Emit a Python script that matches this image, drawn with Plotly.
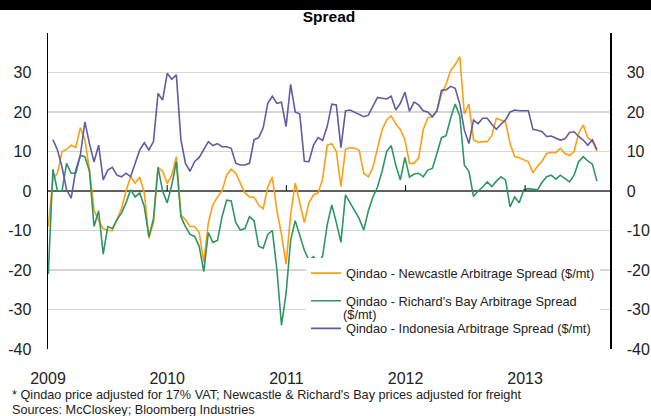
import pandas as pd
import plotly.graph_objects as go

# fortnightly observations, Jan 2009 - Aug 2013
dates = pd.date_range("2009-01-02", periods=121, freq="14D")

newcastle = [
    -9, 3, 4.5, 10, 10.5, 11.6, 11, 16, 13, 5.3,
    -4.8, -7.5, -9.5, -10, -10, -7, -4.5, 0, 3.6, 2,
    3.5, -0.5, -12, -8, 6, 5, 1.9, 4, 8.7, -6,
    -7.3, -9, -9, -10.5, -18, -8, -3.5, -1.5, 0, 4,
    5.5, 4.5, 2, -0.5, -1.5, -1.5, -3.5, -4.5, 1, 3.5,
    -5, -11, -18.5, -6, 2, -3, -8, -3, -1, -0.5,
    3, 11.6, 12, 10, 1.1, 10.5, 11, 10.8, 10.3, 4.5,
    3.6, 6, 10.5, 15.5, 18, 19, 17, 15.5, 13, 7,
    7, 8.4, 15.5, 18.5, 18.8, 20.3, 24.5, 27, 30.5, 32,
    34, 19.5, 22, 13, 12.3, 12.5, 12.5, 14, 18.4, 18,
    17.5, 12, 8.7, 8.4, 8, 7.4, 4.6, 6.3, 7.6, 9.5,
    9.8, 9.7, 10.8, 9.5, 9, 10, 14.6, 16.7, 13.5, 12.6,
    10,
]

richards_bay = [
    -21, 5.5, 0, 0, 7, 4.5, 4.5, 9, 8.7, 5,
    -9, -5, -16, -9, -9.5, -7.3, -5.6, -3, 0.3, -1.5,
    -0.5, -4, -11.6, -7, 6, 0, -3, 1.5, 7.4, -6.5,
    -9, -11, -11.5, -14, -20.4, -10.5, -13, -12.5, -6.5, -2.3,
    -2.5, -8, -9.9, -9.5, -6.5, -7.5, -14, -14.5, -11, -10,
    -20, -34, -26, -12.5, -7.5, -11.5, -15, -17.5, -16.6, -18.4,
    -16.5, -8.5, -3.5, -8, -13, -1, -3, -5.3, -7, -9.9,
    -5, -1.5, 1, 5, 10, 11.5, 6.5, 2.8, 8.5, 3.5,
    4.3, 4.5, 3.6, 5.3, 5.7, 9.5, 13.5, 14, 18.5, 22,
    19, 6.5, 5, -1.4, 0, 1, 2.3, 1.1, 2.5, 3.6,
    2.8, -4, -1.5, -3, 0.3, 0.6, 0.5, 0.3, 2.2, 3.6,
    4, 3, 4, 3.2, 2.3, 4, 7.4, 8.7, 7.6, 6.8,
    2.5,
]

indonesia = [
    None, 13, 10.4, 6, 0.3, -1.8, 5.3, 9, 17.5, 12,
    7.4, 11.6, 2.8, 5.3, 6, 4, 3.6, 4.5, 3.6, 7,
    10.4, 12.2, 10.4, 12.5, 24.7, 23, 29.8, 28.3, 29.4, 13,
    7, 5, 7.5, 8.5, 10.5, 12.5, 11.5, 12, 11.2, 11.2,
    10.8, 7, 6.6, 6.6, 7, 13, 13.5, 16, 22.2, 24,
    22.2, 22.5, 16.3, 27, 20, 19.5, 7.5, 7.4, 11.6, 13.5,
    12.8, 16.3, 22, 21.8, 11, 20.3, 20.5, 19.9, 19.4, 18.8,
    19.2, 21.5, 23.7, 23.5, 23.3, 24, 20.5, 22.2, 25, 20.2,
    22.5, 21.8, 20.3, 20, 18.8, 20.3, 25.5, 25.6, 26.5, 26,
    22, 15.4, 12, 18, 17, 18.4, 18.4, 16.9, 15.6, 16.9,
    18, 20, 20.5, 20.3, 20.3, 20.3, 15.6, 15.4, 15, 13.8,
    13.9, 13.3, 12.9, 13.2, 14.8, 15, 13.8, 12.9, 11.6, 13,
    10.5,
]

year_ticks = ["2009-01-01", "2010-01-01", "2011-01-01", "2012-01-01", "2013-01-01"]
y_ticks = [-40, -30, -20, -10, 0, 10, 20, 30, 40]
y_labels = ["-40", "-30", "-20", "-10", "0", "10", "20", "30", ""]

FONT = "Liberation Sans, Arial, sans-serif"

fig = go.Figure()

series = [
    ("Qindao - Newcastle Arbitrage Spread ($/mt)", newcastle, "#FF9E12"),
    ("Qindao - Richard's Bay Arbitrage Spread", richards_bay, "#2E9663"),
    ("Qindao - Indonesia Arbitrage Spread ($/mt)", indonesia, "#5E5CA2"),
]
for i, (name, vals, color) in enumerate(series):
    fig.add_trace(go.Scatter(
        x=dates, y=vals, name=name, mode="lines", legendgroup=f"g{i}",
        line=dict(color=color, width=1.6), connectgaps=False,
    ))

# empty trace so the right-hand axis gets drawn
fig.add_trace(go.Scatter(x=dates[:1], y=[None], yaxis="y2", showlegend=False,
                         hoverinfo="skip"))

# small tick marks sitting on the zero line
for t in year_ticks[1:]:
    fig.add_shape(type="line", xref="x", yref="y", x0=t, x1=t, y0=0, y1=1.5,
                  line=dict(color="black", width=1))

# black band across the top
fig.add_shape(type="rect", xref="paper", yref="paper", x0=-0.1, x1=1.1,
              y0=1.073, y1=1.11, fillcolor="black", line_width=0, layer="above")

axis_font = dict(size=16, color="#222")

fig.update_layout(
    width=651, height=416,
    margin=dict(l=48, r=41, t=33, b=67, autoexpand=False),
    paper_bgcolor="white", plot_bgcolor="white",
    font=dict(family=FONT, color="#222"),
    title=dict(text="<b>Spread</b>", x=0.5, xref="paper", y=0.959, yanchor="middle",
               font=dict(size=15.5, color="black")),
    showlegend=True,
    legend=dict(x=0.459, y=0.287, xanchor="left", yanchor="top",
                bgcolor="white", font=dict(size=12.8, color="#222"),
                tracegroupgap=8),
    xaxis=dict(
        type="date", range=["2009-01-01", "2013-09-18"], automargin=False,
        tickvals=year_ticks, tickformat="%Y", showgrid=False,
        showline=False, zeroline=False, ticks="",
        tickfont=axis_font, ticklabelstandoff=18,
    ),
    yaxis=dict(
        range=[-40, 40], tickvals=y_ticks, ticktext=y_labels, automargin=False,
        showgrid=True, gridcolor="#d6d6d6", gridwidth=1.5,
        zeroline=True, zerolinecolor="#606060", zerolinewidth=2,
        showline=True, linecolor="black", linewidth=1.5,
        ticks="", tickfont=axis_font, ticklabelstandoff=12,
    ),
    yaxis2=dict(
        overlaying="y", side="right", range=[-40, 40], automargin=False,
        tickvals=y_ticks, ticktext=y_labels, showgrid=False, zeroline=False,
        showline=True, linecolor="black", linewidth=1.5,
        ticks="", tickfont=axis_font, ticklabelstandoff=12,
    ),
)

# second line of the Richard's Bay legend entry
fig.add_annotation(
    text="($/mt)", xref="paper", yref="paper", x=0.522, y=0.11,
    xanchor="left", yanchor="middle", showarrow=False,
    font=dict(size=12.8, color="#222"),
)

fig.add_annotation(
    text="* Qindao price adjusted for 17% VAT; Newcastle & Richard's Bay prices adjusted for freight",
    xref="paper", yref="paper", x=-0.068, y=-0.146, xanchor="left", yanchor="middle",
    showarrow=False, font=dict(size=12.7, color="#222"),
)
fig.add_annotation(
    text="Sources: McCloskey; Bloomberg Industries",
    xref="paper", yref="paper", x=-0.068, y=-0.193, xanchor="left", yanchor="middle",
    showarrow=False, font=dict(size=12.7, color="#222"),
)

fig.write_html("out.html", config={"staticPlot": True},
               post_script="document.body.style.margin='0';")
